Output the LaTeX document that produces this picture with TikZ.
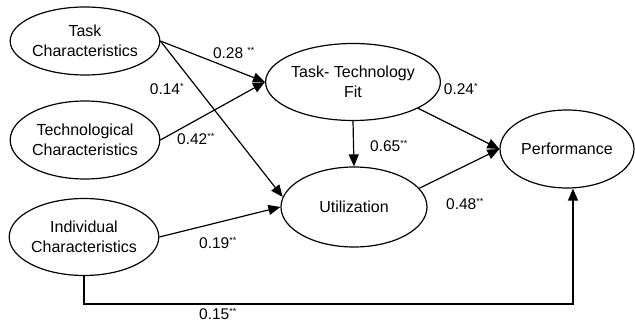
\documentclass[tikz,border=0pt]{standalone}
\usepackage{fontspec}
\setmainfont{Liberation Sans}
\usetikzlibrary{shapes.geometric,arrows.meta,calc}
\tikzset{
  var/.style={draw, ellipse, line width=1.2pt, inner sep=0pt, align=center,
    font=\fontsize{16}{20}\selectfont},
  arr/.style={line width=1.2pt, -{Triangle[length=12pt,width=10pt]}},
  coef/.style={font=\fontsize{15.5}{18}\selectfont, inner sep=0pt},
}
\newcommand{\sig}[1]{\textsuperscript{\fontsize{9}{9}\selectfont #1}}
\begin{document}
\begin{tikzpicture}[x=1pt,y=-1pt]
\useasboundingbox (0,0) rectangle (635,326);
\node[var, minimum width=146pt, minimum height=68pt] (tc) at (85,41) {Task\\Characteristics};
\node[var, minimum width=146pt, minimum height=78pt] (tech) at (85,140) {Technological\\Characteristics};
\node[var, minimum width=145pt, minimum height=77pt] (ind) at (84,237) {Individual\\Characteristics};
\node[var, minimum width=144pt, minimum height=77pt] (ttf) at (353,82) {Task- Technology\\Fit};
\node[var, minimum width=146pt, minimum height=80pt] (util) at (354,207) {Utilization};
\node[var, minimum width=134pt, minimum height=78pt] (perf) at (567,149) {Performance};
\coordinate (bend) at (573,304);

\draw[arr] (tc.east) -- (ttf.west);
\draw[arr] (tech.east) -- (ttf.west);
\draw[arr] (tc.east) -- (util.172);
\draw[arr] (ind.east) -- (util.west);
\draw[arr] (ttf.south) -- (util.north);
\draw[arr] (ttf.-22) -- (perf.west);
\draw[arr] (util.16) -- (perf.west);
\draw[arr] (ind.south) |- (bend) -- (perf.south -| bend);

\node[coef] (l28) at (234,53) {0.28 \sig{**}};
\node[coef] (l14) at (167,89) {0.14\sig{*}};
\node[coef] (l42) at (196,139) {0.42\sig{**}};
\node[coef] (l24) at (461,89) {0.24\sig{*}};
\node[coef] (l65) at (389,146) {0.65\sig{**}};
\node[coef] (l48) at (465,204) {0.48\sig{**}};
\node[coef] (l19) at (218,243) {0.19\sig{**}};
\node[coef] (l15) at (218,314) {0.15\sig{**}};
\end{tikzpicture}
\end{document}
